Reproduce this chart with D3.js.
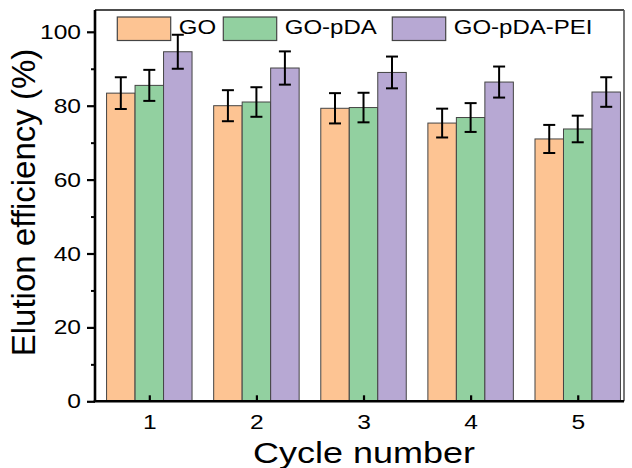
<!DOCTYPE html>
<html>
<head>
<meta charset="utf-8">
<script src="https://cdn.jsdelivr.net/npm/d3@7"></script>
<style>
  body { margin: 0; background: #fff; }
  svg text { font-family: Arial, "Liberation Sans", sans-serif; fill: #000; }
</style>
</head>
<body>
<svg id="chart"></svg>
<script>
const cycles = [1, 2, 3, 4, 5];
const seriesNames = ["GO", "GO-pDA", "GO-pDA-PEI"];
const goValues = [83.4, 80.0, 79.3, 75.3, 71.0];
const goErrors = [4.3, 4.2, 4.1, 3.9, 3.8];
const pdaValues = [85.5, 81.0, 79.5, 76.8, 73.7];
const pdaErrors = [4.2, 4.0, 4.0, 3.9, 3.6];
const peiValues = [94.6, 90.2, 89.0, 86.4, 83.7];
const peiErrors = [4.6, 4.5, 4.3, 4.2, 4.0];
const yTicks = [0, 20, 40, 60, 80, 100];
const colors = ["#fdc493", "#92d0a0", "#b7a8d3"];

const width = 632;
const height = 468;
const stretch = 1.2; // the picture's text is wider than plain Arial

const svg = d3.select("#chart")
    .attr("width", width)
    .attr("height", height);

const x = d3.scaleLinear().domain([0.493, 5.432]).range([95, 624]);
const y = d3.scaleLinear().domain([0, 105.9]).range([401.3, 10]);

const barW = 0.266;
const series = [
    { name: seriesNames[0], values: goValues, errors: goErrors, color: colors[0], off: -1 },
    { name: seriesNames[1], values: pdaValues, errors: pdaErrors, color: colors[1], off: 0 },
    { name: seriesNames[2], values: peiValues, errors: peiErrors, color: colors[2], off: 1 }
];

// frame top and right
svg.append("line").attr("x1", x.range()[0]).attr("x2", x.range()[1])
    .attr("y1", y.range()[1]).attr("y2", y.range()[1])
    .attr("stroke", "#111").attr("stroke-width", 1.6);
svg.append("line").attr("x1", x.range()[1]).attr("x2", x.range()[1])
    .attr("y1", y.range()[1]).attr("y2", y.range()[0])
    .attr("stroke", "#555").attr("stroke-width", 1.6);

// bars
series.forEach(s => {
    const g = svg.append("g");
    g.selectAll("rect")
        .data(cycles)
        .enter()
        .append("rect")
        .attr("x", (d, i) => x(d + s.off * barW - barW / 2))
        .attr("width", x(barW) - x(0))
        .attr("y", (d, i) => y(s.values[i]))
        .attr("height", (d, i) => y(0) - y(s.values[i]))
        .attr("fill", s.color)
        .attr("stroke", "#444")
        .attr("stroke-width", 1);
});

// error bars
series.forEach(s => {
    const g = svg.append("g").attr("stroke", "#000").attr("stroke-width", 2);
    cycles.forEach((d, i) => {
        const cx = x(d + s.off * barW);
        const top = y(s.values[i] + s.errors[i]);
        const bot = y(s.values[i] - s.errors[i]);
        g.append("line").attr("x1", cx).attr("x2", cx).attr("y1", top).attr("y2", bot);
        g.append("line").attr("x1", cx - 6).attr("x2", cx + 6).attr("y1", top).attr("y2", top);
        g.append("line").attr("x1", cx - 6).attr("x2", cx + 6).attr("y1", bot).attr("y2", bot);
    });
});

// left axis
const yAxis = svg.append("g")
    .attr("transform", `translate(${x.range()[0]},0)`)
    .call(d3.axisLeft(y).tickValues(yTicks).tickSize(8).tickPadding(6).tickSizeOuter(0));
yAxis.select(".domain").attr("stroke-width", 2.6).attr("d", `M0,${y(0)}V${y.range()[1]}`);
yAxis.selectAll(".tick line").attr("stroke-width", 2.2);
yAxis.selectAll(".tick text")
    .style("font-size", "20.5px")
    .attr("transform", `scale(${stretch},1)`)
    .attr("x", -14 / stretch);
svg.append("g")
    .attr("transform", `translate(${x.range()[0]},0)`)
    .call(d3.axisLeft(y).tickValues([10, 30, 50, 70, 90]).tickSize(4).tickFormat(""))
    .call(g => g.select(".domain").remove())
    .selectAll(".tick line").attr("stroke-width", 2);

// bottom axis
const xAxis = svg.append("g")
    .attr("transform", `translate(0,${y(0)})`)
    .call(d3.axisBottom(x).tickValues(cycles).tickSize(-6).tickPadding(13).tickSizeOuter(0).tickFormat(d3.format("d")));
xAxis.select(".domain").attr("stroke-width", 2.6).attr("d", `M${x.range()[0] - 1.3},0H${x.range()[1]}`);
xAxis.selectAll(".tick line").attr("stroke-width", 2.2);
xAxis.selectAll(".tick text")
    .style("font-size", "20.5px")
    .attr("transform", `scale(${stretch},1)`);

// axis titles
svg.append("text")
    .attr("transform", `translate(364,463) scale(1.24,1)`)
    .attr("text-anchor", "middle")
    .style("font-size", "29px")
    .text("Cycle number");
svg.append("text")
    .attr("transform", "translate(35,202.5) rotate(-90)")
    .attr("text-anchor", "middle")
    .style("font-size", "33px")
    .text("Elution efficiency (%)");

// legend
const legendX = [117.3, 223.3, 392.3];
const legend = svg.append("g");
series.forEach((s, i) => {
    legend.append("rect")
        .attr("x", legendX[i]).attr("y", 17)
        .attr("width", 53.4).attr("height", 23.5)
        .attr("fill", s.color)
        .attr("stroke", "#444").attr("stroke-width", 1.2);
    legend.append("text")
        .attr("transform", `translate(${legendX[i] + 61.5},34.3) scale(${stretch},1)`)
        .style("font-size", "20px")
        .text(s.name);
});
</script>
</body>
</html>
